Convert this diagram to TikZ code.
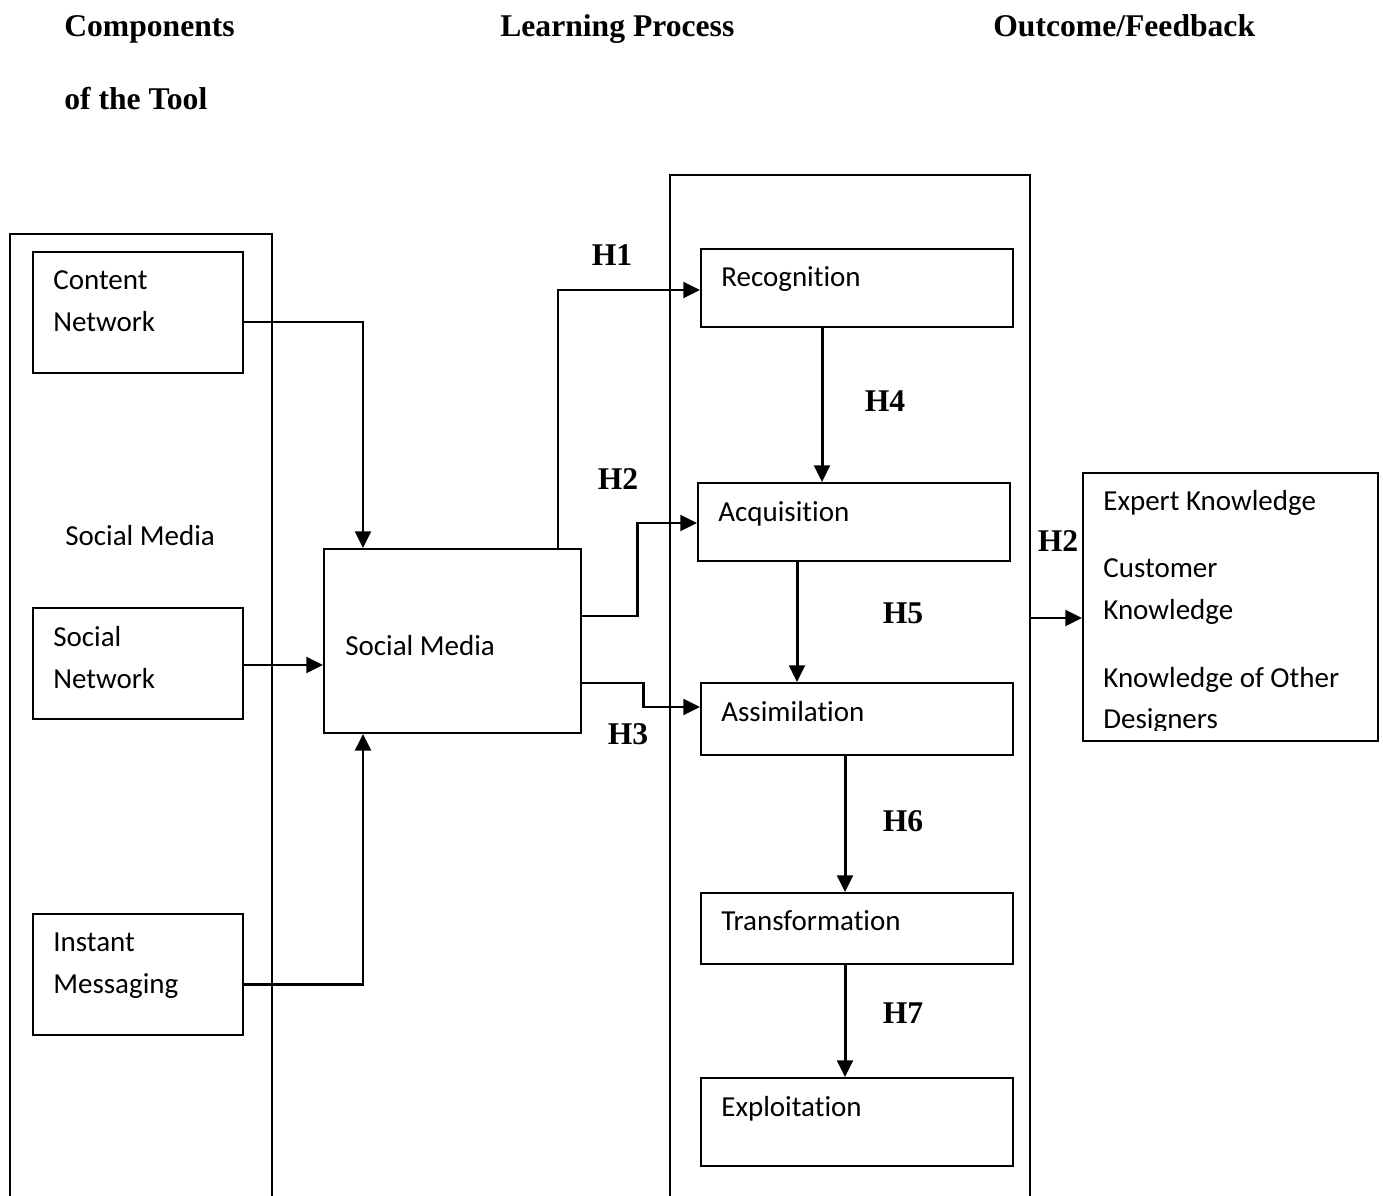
\documentclass[tikz,border=0pt]{standalone}
\usepackage{fontspec}
\setmainfont{Liberation Serif}
\newfontfamily\boxfont[Ligatures={NoCommon,NoContextual},Contextuals=NoAlternate]{Carlito}
\usetikzlibrary{arrows.meta}
\begin{document}
\begin{tikzpicture}[x=0.02cm,y=-0.02cm,
  box/.style={draw,line width=1.1pt,inner sep=0pt,anchor=north west},
  frame/.style={draw,line width=1.1pt},
  btxt/.style={anchor=base west,inner sep=0pt,font=\boxfont\fontsize{16.5}{19}\selectfont},
  head/.style={anchor=base west,inner sep=0pt,font=\bfseries\fontsize{18}{21}\selectfont},
  hlab/.style={inner sep=0pt,font=\bfseries\fontsize{18}{21}\selectfont},
  conn/.style={line width=1.7pt,-{Triangle[length=9.5pt,width=9pt]}},
  line/.style={line width=1.7pt}]
\useasboundingbox (0,0) rectangle (1383,1196);
% headers
\node[head] (hc1) at (64,37) {Components};
\node[head] (hc2) at (64,110) {of the Tool};
\node[head] (hl) at (500,37) {Learning Process};
\node[head] (ho) at (993,37) {Outcome/Feedback};
% outer frames (open at bottom)
\draw[frame] (10,1197) -- (10,234) -- (272,234) -- (272,1197);
\draw[frame] (670,1197) -- (670,175) -- (1030,175) -- (1030,1197);
\coordinate (midR) at (1030,618);
% left column boxes
\node[box,minimum width=210*0.02cm,minimum height=121*0.02cm] (cn) at (32,251) {};
\node[btxt] (cnt1) at (53,290) {Content};
\node[btxt] (cnt2) at (53,332) {Network};
\node[btxt] (smlab) at (65,545) {Social Media};
\node[box,minimum width=210*0.02cm,minimum height=111*0.02cm] (sn) at (32,607) {};
\node[btxt] (snt1) at (53,646) {Social};
\node[btxt] (snt2) at (53,688) {Network};
\node[box,minimum width=210*0.02cm,minimum height=121*0.02cm] (im) at (32,913) {};
\node[btxt] (imt1) at (53,951) {Instant};
\node[btxt] (imt2) at (53,993) {Messaging};
% social media box
\node[box,minimum width=257*0.02cm,minimum height=184*0.02cm] (sm) at (323,548) {};
\node[btxt] (smt) at (345,655) {Social Media};
% learning process boxes
\node[box,minimum width=312*0.02cm,minimum height=78*0.02cm] (rec) at (700,248) {};
\node[btxt] (rect) at (721,287) {Recognition};
\node[box,minimum width=312*0.02cm,minimum height=78*0.02cm] (acq) at (697,482) {};
\node[btxt] (acqt) at (718,521) {Acquisition};
\node[box,minimum width=312*0.02cm,minimum height=72*0.02cm] (ass) at (700,682) {};
\node[btxt] (asst) at (721,721) {Assimilation};
\node[box,minimum width=312*0.02cm,minimum height=71*0.02cm] (tra) at (700,892) {};
\node[btxt] (trat) at (721,930) {Transformation};
\node[box,minimum width=312*0.02cm,minimum height=88*0.02cm] (exp) at (700,1077) {};
\node[btxt] (expt) at (721,1116) {Exploitation};
% outcome box
\node[box,minimum width=295*0.02cm,minimum height=268*0.02cm] (out) at (1082,472) {};
\node[btxt] (o1) at (1103,510) {Expert Knowledge};
\node[btxt] (o2) at (1103,577) {Customer};
\node[btxt] (o3) at (1103,619) {Knowledge};
\node[btxt] (o4) at (1103,687) {Knowledge of Other};
\begin{scope}
\clip (1082,700) rectangle (1377,730);
\node[btxt] (o5) at (1103,728) {Designers};
\end{scope}
% connectors into social media
\draw[conn] (cn.east |- 0,322) -| (sm.north -| 363,0);
\draw[conn] (sn.east |- 0,665) -- (sm.west |- 0,665);
\draw[conn] (im.east |- 0,984) -| (sm.south -| 363,0);
% H1-H3
\draw[conn] (sm.north -| 558,0) |- (rec.west |- 0,290);
\draw[conn] (sm.east |- 0,616) -- (637,616) |- (acq.west |- 0,523);
\draw[conn] (sm.east |- 0,683) -- (643,683) |- (ass.west |- 0,707);
% vertical chain
\draw[conn] (rec.south -| 822,0) -- (acq.north -| 822,0);
\draw[conn] (acq.south -| 797,0) -- (ass.north -| 797,0);
\draw[conn] (ass.south -| 845,0) -- (tra.north -| 845,0);
\draw[conn] (tra.south -| 845,0) -- (exp.north -| 845,0);
% outcome arrow
\draw[conn] (midR) -- (out.west |- midR);
% labels
\node[hlab] (h1) at (612,255) {H1};
\node[hlab] (h2) at (618,479) {H2};
\node[hlab] (h3) at (628,734) {H3};
\node[hlab] (h4) at (885,401) {H4};
\node[hlab] (h5) at (903,613) {H5};
\node[hlab] (h6) at (903,821) {H6};
\node[hlab] (h7) at (903,1013) {H7};
\node[hlab] (h2b) at (1058,541) {H2};
\end{tikzpicture}
\end{document}
